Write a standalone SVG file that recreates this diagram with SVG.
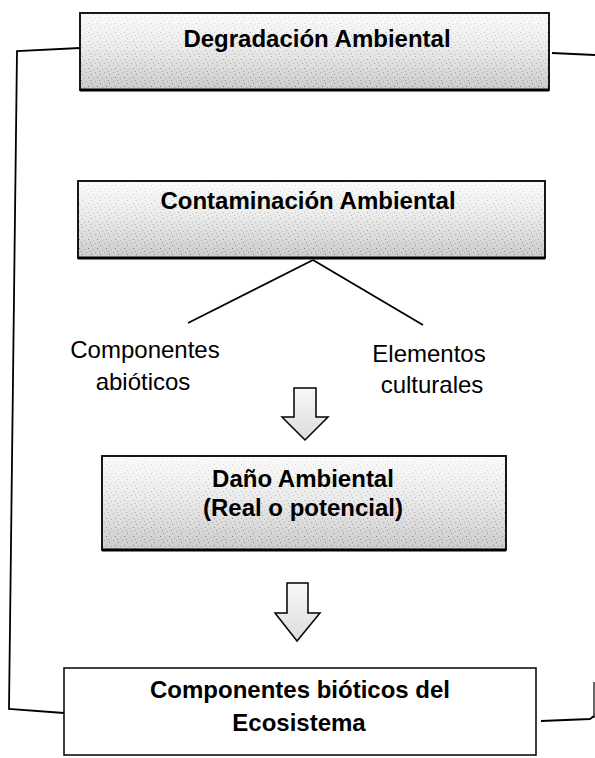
<svg xmlns="http://www.w3.org/2000/svg" width="595" height="758" viewBox="0 0 595 758">
<defs>
<linearGradient id="shade" x1="0" y1="0" x2="0" y2="1">
<stop offset="0" stop-color="#fbfbfb"/>
<stop offset="0.45" stop-color="#ebebeb"/>
<stop offset="1" stop-color="#cbcbcb"/>
</linearGradient>
<linearGradient id="shadeArrow" x1="0" y1="0" x2="0" y2="1">
<stop offset="0" stop-color="#f8f8f8"/>
<stop offset="1" stop-color="#dcdcdc"/>
</linearGradient>
<pattern id="dots" width="9" height="9" patternUnits="userSpaceOnUse">
<rect x="1" y="2" width="1" height="1" fill="#555"/>
<rect x="5" y="0" width="1" height="1" fill="#777"/>
<rect x="7" y="5" width="1" height="1" fill="#444"/>
<rect x="3" y="6" width="1" height="1" fill="#888"/>
<rect x="0" y="8" width="1" height="1" fill="#666"/>
</pattern>
<linearGradient id="fade" x1="0" y1="0" x2="0" y2="1">
<stop offset="0" stop-color="#fff" stop-opacity="0.25"/>
<stop offset="1" stop-color="#fff" stop-opacity="1"/>
</linearGradient>
<mask id="dotmask" maskContentUnits="objectBoundingBox">
<rect x="0" y="0" width="1" height="1" fill="url(#fade)"/>
</mask>
</defs>
<style>
.box{fill:url(#shade);stroke:#000;stroke-width:1.8}
.stip{fill:url(#dots);mask:url(#dotmask);opacity:0.6}
.plain{fill:#fff;stroke:#000;stroke-width:1.5}
.base{stroke:#000;stroke-width:3}
.bt{font-family:"Liberation Sans",Arial,sans-serif;font-weight:bold;font-size:24px;fill:#000;text-anchor:middle}
.rt{font-family:"Liberation Sans",Arial,sans-serif;font-size:24px;fill:#000;text-anchor:middle}
.ln{fill:none;stroke:#000;stroke-width:1.8}
.arr{fill:url(#shadeArrow);stroke:#000;stroke-width:1.5;stroke-linejoin:miter}
</style>
<g id="connectors">
<polyline class="ln" points="80,48 17,51 9,709 64,713"/>
<polyline class="ln" points="552,53 595,55"/>
<polyline class="ln" points="541,721 590,719 594,716"/>
<line class="ln" x1="594" y1="718" x2="594" y2="682" style="stroke-width:1.2"/>
<line class="ln" x1="313" y1="260" x2="188" y2="323"/>
<line class="ln" x1="313" y1="260" x2="423" y2="325"/>
<polygon class="arr" points="294,388 316,388 316,417 328,417 305,440 282,417 294,417"/>
<polygon class="arr" points="287,583 308,583 308,613 320,613 297,641 275,613 287,613"/>
</g>
<g id="degradacion">
<rect class="box" x="80" y="13" width="469" height="77"/>
<rect class="stip" x="81" y="14" width="467" height="75"/>
<line class="base" x1="80" y1="90" x2="549" y2="90"/>
<text class="bt" x="317" y="47">Degradación Ambiental</text>
</g>
<g id="contaminacion">
<rect class="box" x="78" y="181" width="467" height="77"/>
<rect class="stip" x="79" y="182" width="465" height="75"/>
<line class="base" x1="78" y1="258" x2="545" y2="258"/>
<text class="bt" x="308" y="209">Contaminación Ambiental</text>
</g>
<g id="abioticos">
<text class="rt" x="145" y="358">Componentes</text>
<text class="rt" x="143" y="390">abióticos</text>
</g>
<g id="culturales">
<text class="rt" x="429" y="362">Elementos</text>
<text class="rt" x="432" y="393">culturales</text>
</g>
<g id="dano">
<rect class="box" x="102" y="456" width="404" height="94"/>
<rect class="stip" x="103" y="457" width="402" height="92"/>
<line class="base" x1="102" y1="550" x2="506" y2="550"/>
<text class="bt" x="303" y="487">Daño Ambiental</text>
<text class="bt" x="303" y="516">(Real o potencial)</text>
</g>
<g id="bioticos">
<rect class="plain" x="64" y="668" width="472" height="87"/>
<text class="bt" x="300" y="698">Componentes bióticos del</text>
<text class="bt" x="299" y="731">Ecosistema</text>
</g>
</svg>
